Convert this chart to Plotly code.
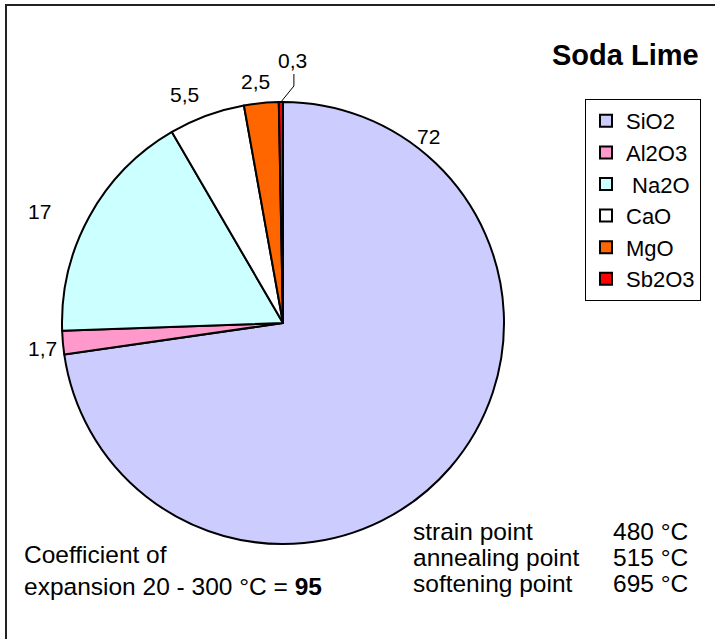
import math
import plotly.graph_objects as go

components = ["SiO2", "Al2O3", " Na2O", "CaO", "MgO", "Sb2O3"]
values = [72, 1.7, 17, 5.5, 2.5, 0.3]
value_labels = ["72", "1,7", "17", "5,5", "2,5", "0,3"]
colors = ["#CCCCFF", "#FF99CC", "#CCFFFF", "#FFFFFF", "#FF6600", "#FF0000"]

props = ["strain point", "annealing point", "softening point"]
temps = ["480 °C", "515 °C", "695 °C"]
coef_text = "Coefficient of<br>expansion 20 - 300 °C = <b>95</b>"
title = "Soda Lime"

W, H = 715, 639
FONT = "Arial, Liberation Sans, sans-serif"

# pie geometry (pixels)
cx, cy, r = 283, 323, 221
# label placement style: fraction along slice and distance beyond the rim
label_frac = [0.145, 0.35, 0.43, 0.35, 0.4, 0.5]
label_gap = [15, 21, 47, 28, 22, 0]


def px(x):
    return x / W


def py(y):
    return 1 - y / H


fig = go.Figure(go.Pie(
    labels=components,
    values=values,
    sort=False,
    direction="clockwise",
    rotation=0,
    marker=dict(colors=colors, line=dict(color="#000000", width=2)),
    textinfo="none",
    hoverinfo="label+value",
    domain=dict(x=[px(cx - r), px(cx + r)], y=[py(cy + r), py(cy - r)]),
    showlegend=True,
))

annotations = []
shapes = []
total = sum(values)
cum = 0.0
for i, v in enumerate(values):
    ang = math.radians(360.0 * (cum + label_frac[i] * v) / total)
    cum += v
    sx, sy = math.sin(ang), -math.cos(ang)
    if i == len(values) - 1:
        # small slice: leader line
        ex, ey = cx + r * sx, cy + r * sy
        path = "M %f %f L %f %f L %f %f" % (px(ex), py(ey), px(ex + 13), py(ey - 16), px(ex + 13), py(ey - 28))
        shapes.append(dict(type="path", xref="paper", yref="paper", path=path,
                           line=dict(color="#000000", width=1)))
        lx, ly = ex + 12, ey - 42
    else:
        d = r + label_gap[i]
        lx, ly = cx + d * sx, cy + d * sy
    annotations.append(dict(text=value_labels[i], x=px(lx), y=py(ly), xanchor="center", yanchor="middle",
                            showarrow=False, font=dict(family=FONT, size=21, color="#000000")))

annotations.append(dict(text="<b>%s</b>" % title, x=px(701), y=py(55), xanchor="right", yanchor="middle",
                        showarrow=False, font=dict(family=FONT, size=29, color="#000000")))
annotations.append(dict(text=coef_text, x=px(22), y=py(570), xanchor="left", yanchor="middle", align="left",
                        showarrow=False, font=dict(family=FONT, size=24.5, color="#000000")))
for i, (p, t) in enumerate(zip(props, temps)):
    yy = 531 + i * 26
    annotations.append(dict(text=p, x=px(411), y=py(yy), xanchor="left", yanchor="middle",
                            showarrow=False, font=dict(family=FONT, size=24.5, color="#000000")))
    annotations.append(dict(text=t, x=px(611), y=py(yy), xanchor="left", yanchor="middle",
                            showarrow=False, font=dict(family=FONT, size=24.5, color="#000000")))

shapes.append(dict(type="rect", xref="paper", yref="paper", x0=px(6), x1=1.05,
                   y0=-0.05, y1=py(5), line=dict(color="#222222", width=2)))

fig.update_layout(
    width=W, height=H,
    margin=dict(l=0, r=0, t=0, b=0),
    paper_bgcolor="#FFFFFF",
    plot_bgcolor="#FFFFFF",
    font=dict(family=FONT, size=21, color="#000000"),
    legend=dict(x=px(585), y=py(99), xanchor="left", yanchor="top",
                bordercolor="#000000", borderwidth=1, bgcolor="#FFFFFF",
                font=dict(family=FONT, size=22, color="#000000"),
                itemclick=False, itemdoubleclick=False, tracegroupgap=0),
    annotations=annotations,
    shapes=shapes,
)

fig.write_html("out.html", config={"displayModeBar": False},
               post_script="document.body.style.margin='0px';")
